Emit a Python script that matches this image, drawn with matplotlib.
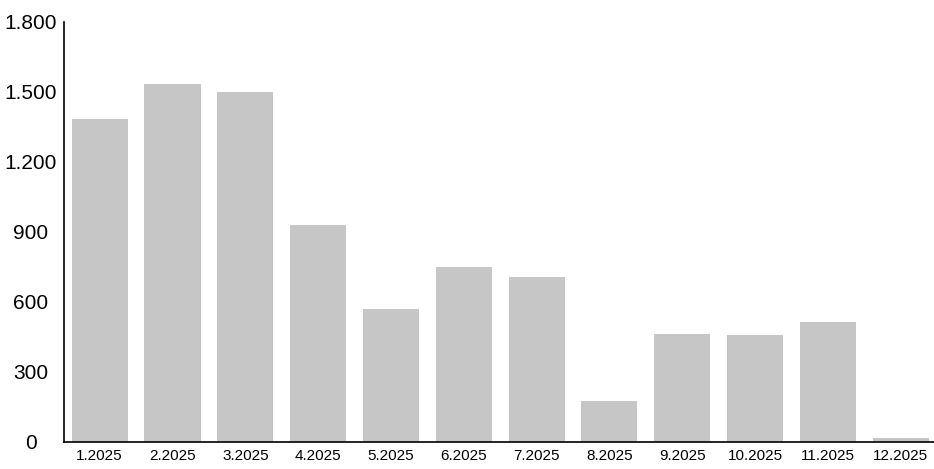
import matplotlib.pyplot as plt
from matplotlib.ticker import FuncFormatter

months = ['1.2025', '2.2025', '3.2025', '4.2025', '5.2025', '6.2025',
          '7.2025', '8.2025', '9.2025', '10.2025', '11.2025', '12.2025']
values = [1383, 1534, 1500, 932, 570, 752, 705, 175, 462, 458, 515, 15]
y_ticks = [0, 300, 600, 900, 1200, 1500, 1800]


def dot_thousands(v, pos):
    return '{:,.0f}'.format(v).replace(',', '.')


plt.rcParams['font.family'] = ['Liberation Sans', 'DejaVu Sans']

fig = plt.figure(figsize=(9.34, 4.69), dpi=100)
ax = fig.add_axes([0.0685, 0.0576, 0.931, 0.8955])

x = range(len(months))
ax.bar(x, values, width=0.77, color='#c6c6c6', edgecolor='none')

ax.set_xlim(-0.49, 11.45)
ax.set_ylim(0, 1800)
ax.set_yticks(y_ticks)
ax.yaxis.set_major_formatter(FuncFormatter(dot_thousands))
ax.set_xticks(list(x))
ax.set_xticklabels(months)

# y labels sit centred in the left margin
ax.tick_params(axis='y', length=0, pad=24, labelsize=15)
ax.tick_params(axis='x', length=0, pad=5, labelsize=11)
for lbl in ax.get_yticklabels():
    lbl.set_horizontalalignment('center')

for s in ['top', 'right']:
    ax.spines[s].set_visible(False)
ax.spines['left'].set_linewidth(1.2)
ax.spines['bottom'].set_linewidth(1.2)

plt.savefig('out.png')
